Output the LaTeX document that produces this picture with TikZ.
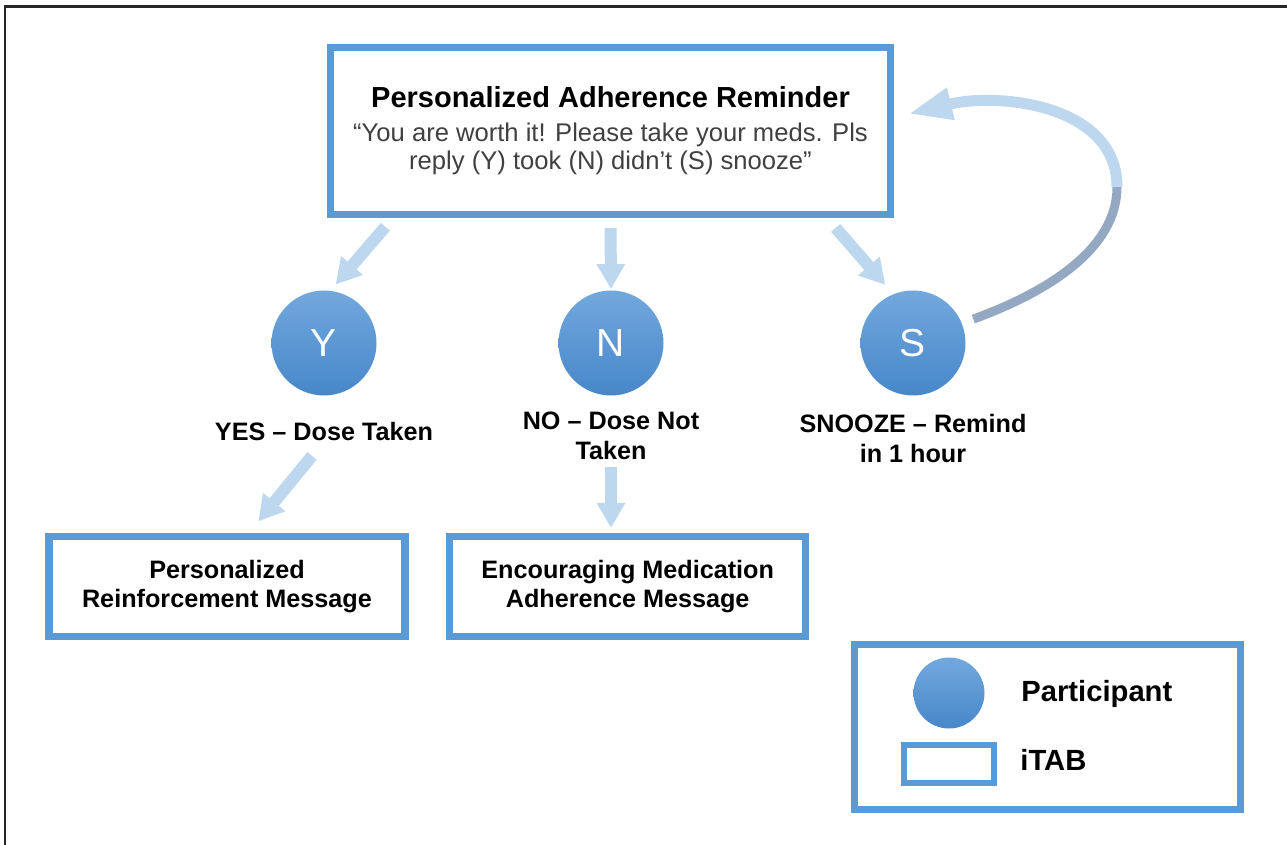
\documentclass[tikz,border=0pt]{standalone}
\usepackage{fontspec}
\setmainfont{Liberation Sans}
\usepackage{xcolor}
\usetikzlibrary{arrows.meta,positioning}
\definecolor{ItabBlue}{HTML}{5B9BD5}
\definecolor{ArrowBlue}{HTML}{BDD7EE}
\definecolor{LoopGrey}{HTML}{94A9C1}
\definecolor{DotTop}{HTML}{72A8DD}
\definecolor{DotBottom}{HTML}{4787C9}
\definecolor{QuoteGrey}{HTML}{404040}
\tikzset{
  itab/.style={
    draw=ItabBlue,
    line width=3.6pt,
    fill=white,
    align=center,
    inner sep=0pt,
    font=\bfseries\fontsize{12.6}{14.5}\selectfont
  },
  participant/.style={
    circle,
    inner sep=0pt,
    minimum size=52.5pt,
    top color=DotTop,
    bottom color=DotBottom,
    text=white,
    font=\fontsize{19.5}{20}\selectfont
  },
  answer/.style={align=center, inner sep=0pt, font=\bfseries\fontsize{12.6}{14.8}\selectfont},
  reply/.style={-{Triangle[length=12.5pt,width=13.5pt]}, line width=6pt, draw=ArrowBlue},
  loopback/.style={line width=4.5pt, draw=LoopGrey},
  loopbackhead/.style={-{Triangle[length=22pt,width=15pt]}, line width=5.5pt, draw=ArrowBlue},
  legendtext/.style={anchor=base west, inner sep=0pt, font=\bfseries\fontsize{14.6}{16}\selectfont}
}

\begin{document}
\begin{tikzpicture}[x=0.5pt, y=-0.5pt]
\useasboundingbox (0,0) rectangle (1287,845);
\draw[line width=1.2pt, draw=black!85] (5,845) -- (5,6.5) -- (1287,6.5);

% reminder sent by iTAB
\node[itab, minimum width=280pt, minimum height=83.5pt, text=QuoteGrey,
      font=\fontsize{12.8}{14.3}\selectfont] (reminder) at (610.5,131)
  {{\color{black}\bfseries\fontsize{14.5}{14.3}\selectfont Personalized Adherence Reminder}\\[2.5pt]
   “You are worth it! Please take your meds. Pls\\
   reply (Y) took (N) didn't (S) snooze”};

% participant replies
\node[participant] (Y) at (324,343) {Y};
\node[participant] (N) at (611,343) {N};
\node[participant] (S) at (913,343) {S};
\node[answer, below=13pt of Y] (yes) {YES -- Dose Taken};
\node[answer, below=8pt of N] (no) {NO -- Dose Not\\Taken};
\node[answer, below=9pt of S] (snooze) {SNOOZE -- Remind\\in 1 hour};

% follow-up messages
\node[itab, minimum width=178pt, minimum height=50pt] (reinforce) at (227,586.5)
  {Personalized\\Reinforcement Message};
\node[itab, minimum width=178pt, minimum height=50pt] (encourage) at (627.7,586.5)
  {Encouraging Medication\\Adherence Message};

% legend
\node[itab, line width=3.4pt, minimum width=193pt, minimum height=82.5pt] (legend) at (1047.5,727) {};
\node[participant, minimum size=35.5pt] (keydot) at (949,693) {};
\node[itab, line width=3.4pt, minimum width=45pt, minimum height=19pt] (keybox) at (949,764) {};
\node[legendtext] (keydottext) at (1021,701.5) {Participant};
\node[legendtext] (keyboxtext) at (1020,770) {iTAB};

\draw[reply, shorten <=5.7pt, shorten >=4pt] ([xshift=33pt]reminder.south west) -- (Y.83);
\draw[reply, shorten <=5pt, shorten >=0.5pt] (reminder.south) -- (N.north);
\draw[reply, shorten <=6.5pt, shorten >=6pt] ([xshift=-33.5pt]reminder.south east) -- (S.112);
\draw[reply, shorten <=9.5pt, shorten >=7.4pt] (yes.south) -- ([xshift=101.8pt]reinforce.north west);
\draw[reply, shorten <=3.5pt, shorten >=2.5pt] (no.south) -- (no.south |- encourage.north);

% snooze loops back to the reminder
\coordinate (loopturn) at (1117,187);
\draw[loopback, shorten <=6pt] (S.22) .. controls (1045,293) and (1117,250) .. (loopturn);
\draw[loopbackhead] (loopturn) .. controls (1117,105) and (1000,92) .. ([xshift=7pt,yshift=8.5pt]reminder.east);
\end{tikzpicture}
\end{document}
